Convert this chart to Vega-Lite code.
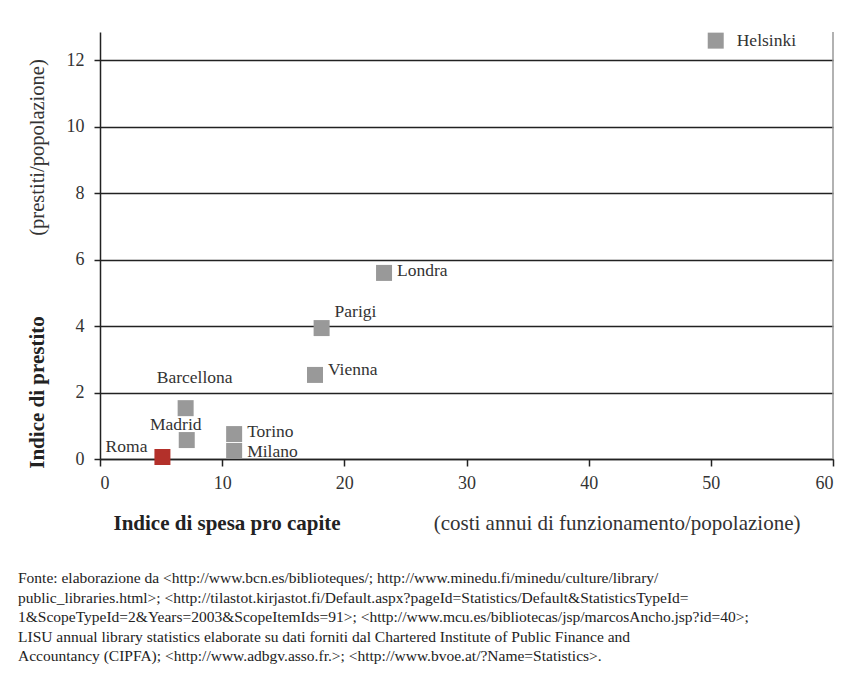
{
  "$schema": "https://vega.github.io/schema/vega-lite/v6.json",
  "width": 733,
  "height": 427,
  "autosize": {"type": "none"},
  "padding": {"left": 100, "top": 32, "right": 30, "bottom": 226},
  "background": "white",
  "config": {"view": {"stroke": null}, "font": "Liberation Serif", "title": {"font": "Liberation Serif"}, "axis": {"labelFont": "Liberation Serif", "titleFont": "Liberation Serif"}},
  "data": {"values": [
    {"citta": "Helsinki", "spesa": 50.4, "prestito": 12.59},
    {"citta": "Londra", "spesa": 23.25, "prestito": 5.6},
    {"citta": "Parigi", "spesa": 18.14, "prestito": 3.94},
    {"citta": "Vienna", "spesa": 17.6, "prestito": 2.53},
    {"citta": "Barcellona", "spesa": 7.01, "prestito": 1.53},
    {"citta": "Madrid", "spesa": 7.1, "prestito": 0.57},
    {"citta": "Torino", "spesa": 10.98, "prestito": 0.75},
    {"citta": "Milano", "spesa": 10.98, "prestito": 0.24},
    {"citta": "Roma", "spesa": 5.11, "prestito": 0.06}
  ]},
  "title": {
    "text": [
      "Fonte: elaborazione da <http://www.bcn.es/biblioteques/; http://www.minedu.fi/minedu/culture/library/",
      "public_libraries.html>; <http://tilastot.kirjastot.fi/Default.aspx?pageId=Statistics/Default&StatisticsTypeId=",
      "1&ScopeTypeId=2&Years=2003&ScopeItemIds=91>; <http://www.mcu.es/bibliotecas/jsp/marcosAncho.jsp?id=40>;",
      "LISU annual library statistics elaborate su dati forniti dal Chartered Institute of Public Finance and",
      "Accountancy (CIPFA); <http://www.adbgv.asso.fr.>; <http://www.bvoe.at/?Name=Statistics>."
    ],
    "orient": "bottom",
    "anchor": "start",
    "frame": "group",
    "dx": -82,
    "offset": 38,
    "font": "Liberation Serif",
    "fontSize": 15.5,
    "fontWeight": "normal",
    "color": "#222222",
    "lineHeight": 19.6,
    "baseline": "top"
  },
  "layer": [
    {
      "data": {"values": [{}]},
      "mark": {"type": "rule", "color": "#999999", "strokeWidth": 1.5},
      "encoding": {
        "x": {"datum": 60, "type": "quantitative", "scale": {"domain": [0, 60], "nice": false},
          "axis": {"orient": "bottom", "domain": false, "ticks": false, "labels": false, "grid": false,
            "title": "Indice di spesa pro capite", "titleFont": "Liberation Serif", "titleFontSize": 21,
            "titleFontWeight": "bold", "titleColor": "#222222", "titleX": 13, "titleY": 64,
            "titleAlign": "left", "titleBaseline": "middle"}},
        "y": {"datum": 0, "type": "quantitative", "scale": {"domain": [0, 12.85], "nice": false},
          "axis": {"orient": "left", "domain": false, "ticks": false, "labels": false, "grid": false,
            "title": "Indice di prestito", "titleFont": "Liberation Serif", "titleFontSize": 21,
            "titleFontWeight": "bold", "titleColor": "#222222", "titleX": -63, "titleY": 360,
            "titleAngle": -90, "titleAlign": "center", "titleBaseline": "middle"}},
        "y2": {"datum": 12.85}
      }
    },
    {
      "mark": {"type": "point", "shape": "square", "filled": true, "size": 256, "opacity": 1},
      "encoding": {
        "x": {"field": "spesa", "type": "quantitative",
          "axis": {"orient": "bottom", "values": [0, 10, 20, 30, 40, 50, 60], "grid": false,
            "domainColor": "#222222", "domainWidth": 1.5, "tickColor": "#222222", "tickWidth": 1.5, "tickSize": 7,
            "labelFont": "Liberation Serif", "labelFontSize": 18, "labelColor": "#333333", "labelPadding": 8,
            "title": "(costi annui di funzionamento/popolazione)", "titleFont": "Liberation Serif",
            "titleFontSize": 21, "titleFontWeight": "normal", "titleColor": "#333333",
            "titleX": 700, "titleY": 64, "titleAlign": "right", "titleBaseline": "middle"}},
        "y": {"field": "prestito", "type": "quantitative",
          "axis": {"orient": "left", "values": [0, 2, 4, 6, 8, 10, 12], "grid": true, "gridColor": "#222222",
            "gridWidth": 1.5, "domainColor": "#222222", "domainWidth": 1.5, "tickColor": "#222222",
            "tickWidth": 1.5, "tickSize": 6, "labelFont": "Liberation Serif", "labelFontSize": 18,
            "labelColor": "#333333", "labelPadding": 10,
            "title": "(prestiti/popolazione)", "titleFont": "Liberation Serif", "titleFontSize": 20.5,
            "titleFontWeight": "normal", "titleColor": "#333333", "titleX": -63, "titleY": 115,
            "titleAngle": -90, "titleAlign": "center", "titleBaseline": "middle"}},
        "color": {"condition": {"test": "datum.citta === 'Roma'", "value": "#b3302a"}, "value": "#999999"}
      }
    },
    {
      "transform": [{"filter": "indexof(['Londra','Torino'], datum.citta) >= 0"}],
      "mark": {"type": "text", "align": "left", "baseline": "middle", "dx": 13, "dy": -2, "font": "Liberation Serif", "fontSize": 17.5, "color": "#333333"},
      "encoding": {"x": {"field": "spesa", "type": "quantitative", "axis": null}, "y": {"field": "prestito", "type": "quantitative", "axis": null}, "text": {"field": "citta"}}
    },
    {
      "transform": [{"filter": "datum.citta === 'Milano'"}],
      "mark": {"type": "text", "align": "left", "baseline": "middle", "dx": 13, "dy": 1, "font": "Liberation Serif", "fontSize": 17.5, "color": "#333333"},
      "encoding": {"x": {"field": "spesa", "type": "quantitative", "axis": null}, "y": {"field": "prestito", "type": "quantitative", "axis": null}, "text": {"field": "citta"}}
    },
    {
      "transform": [{"filter": "datum.citta === 'Vienna'"}],
      "mark": {"type": "text", "align": "left", "baseline": "middle", "dx": 13, "dy": -5, "font": "Liberation Serif", "fontSize": 17.5, "color": "#333333"},
      "encoding": {"x": {"field": "spesa", "type": "quantitative", "axis": null}, "y": {"field": "prestito", "type": "quantitative", "axis": null}, "text": {"field": "citta"}}
    },
    {
      "transform": [{"filter": "datum.citta === 'Helsinki'"}],
      "mark": {"type": "text", "align": "left", "baseline": "middle", "dx": 21, "dy": 0, "font": "Liberation Serif", "fontSize": 17.5, "color": "#333333"},
      "encoding": {"x": {"field": "spesa", "type": "quantitative", "axis": null}, "y": {"field": "prestito", "type": "quantitative", "axis": null}, "text": {"field": "citta"}}
    },
    {
      "transform": [{"filter": "datum.citta === 'Parigi'"}],
      "mark": {"type": "text", "align": "left", "baseline": "middle", "dx": 13, "dy": -16, "font": "Liberation Serif", "fontSize": 17.5, "color": "#333333"},
      "encoding": {"x": {"field": "spesa", "type": "quantitative", "axis": null}, "y": {"field": "prestito", "type": "quantitative", "axis": null}, "text": {"field": "citta"}}
    },
    {
      "transform": [{"filter": "datum.citta === 'Barcellona'"}],
      "mark": {"type": "text", "align": "center", "baseline": "middle", "dx": 9, "dy": -30, "font": "Liberation Serif", "fontSize": 17.5, "color": "#333333"},
      "encoding": {"x": {"field": "spesa", "type": "quantitative", "axis": null}, "y": {"field": "prestito", "type": "quantitative", "axis": null}, "text": {"field": "citta"}}
    },
    {
      "transform": [{"filter": "datum.citta === 'Madrid'"}],
      "mark": {"type": "text", "align": "center", "baseline": "middle", "dx": -11, "dy": -15, "font": "Liberation Serif", "fontSize": 17.5, "color": "#333333"},
      "encoding": {"x": {"field": "spesa", "type": "quantitative", "axis": null}, "y": {"field": "prestito", "type": "quantitative", "axis": null}, "text": {"field": "citta"}}
    },
    {
      "transform": [{"filter": "datum.citta === 'Roma'"}],
      "mark": {"type": "text", "align": "right", "baseline": "middle", "dx": -15, "dy": -10, "font": "Liberation Serif", "fontSize": 17.5, "color": "#333333"},
      "encoding": {"x": {"field": "spesa", "type": "quantitative", "axis": null}, "y": {"field": "prestito", "type": "quantitative", "axis": null}, "text": {"field": "citta"}}
    }
  ],
  "resolve": {"axis": {"x": "independent", "y": "independent"}}
}
